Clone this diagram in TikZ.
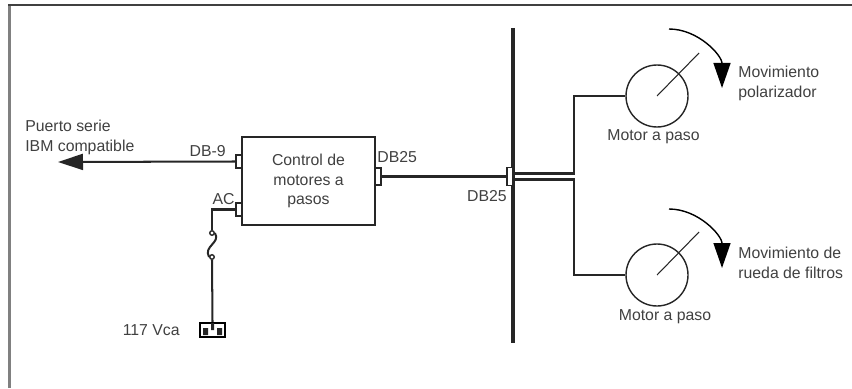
\documentclass[tikz,border=0pt]{standalone}
\usepackage{fontspec}
\setmainfont{Liberation Sans}
\usetikzlibrary{arrows.meta}
\tikzset{
  lbl/.style={inner sep=0pt,align=left,text=black!75,font=\fontsize{9}{11.3}\selectfont},
  wire/.style={line width=1.15pt,draw=black!85},
  conn/.style={draw=black!85,fill=white,line width=.8pt,minimum width=.12cm,inner sep=0pt},
  motorc/.style={circle,draw=black!85,line width=.8pt,minimum size=1.24cm,inner sep=0pt},
  fusedot/.style={circle,draw=black!85,line width=.8pt,minimum size=.09cm,inner sep=0pt},
  turn/.style={line width=.8pt,-{Triangle[length=.5cm,width=.34cm]}}
}
\begin{document}
\begin{tikzpicture}
  \useasboundingbox (0,0) rectangle (17.04,7.76);
  \draw[black!50,line width=2pt] (.19,0)--(.19,7.66);
  \draw[black!75,line width=1.6pt] (.16,7.66)--(17.04,7.66);
  \node[draw=black!85,line width=1pt,minimum width=2.66cm,minimum height=1.76cm,lbl,align=center,inner sep=0pt] (ctrl) at (6.17,4.14) {Control de\\motores a\\pasos};
  \node[conn,minimum height=.26cm] (dbnine) at (4.78,4.53) {};
  \node[conn,minimum height=.26cm] (acin) at (4.78,3.57) {};
  \node[conn,minimum height=.34cm] (dbout) at (7.56,4.23) {};
  \coordinate (bustop) at (10.26,7.2);
  \coordinate (busbot) at (10.26,.9);
  \draw[black!85,line width=1.9pt] (bustop)--(busbot);
  \node[conn,minimum height=.36cm] (dbbus) at (10.2,4.23) {};
  \node[motorc] (motora) at (13.14,5.84) {};
  \node[motorc] (motorb) at (13.14,2.26) {};
  \coordinate (leftend) at (1.16,4.52);
  \draw[wire,-{Triangle[length=.5cm,width=.32cm]}] (dbnine.west)--(leftend);
  \draw[wire] (dbout.east)--(dbbus.west);
  \draw[wire] ([yshift=.06cm]dbbus.east)--++(1.2,0)|-(motora.west);
  \draw[wire] ([yshift=-.06cm]dbbus.east)--++(1.2,0)|-(motorb.west);
  % fuse and plug
  \node[fusedot] (fusetop) at (4.24,3.1) {};
  \node[fusedot] (fusebot) at (4.24,2.62) {};
  \node[draw=black,line width=1.2pt,minimum width=.5cm,minimum height=.28cm,inner sep=0pt] (plug) at (4.25,1.16) {};
  \draw[wire] (acin.west)-|(fusetop.north);
  \draw[wire] (fusetop.east) .. controls (4.42,2.9) and (4.06,2.84) .. (fusebot.west);
  \draw[wire] (fusebot.south)--(plug.north);
  \fill[black!85] (4.06,1.06) rectangle (4.16,1.2) (4.34,1.06) rectangle (4.44,1.2) (4.22,1.16) rectangle (4.28,1.3);
  % motor shafts and turning arrows
  \draw[line width=.6pt,black!85] (motora.center)--++(.84,.86);
  \draw[line width=.6pt,black!85] (motorb.center)--++(.84,.86);
  \draw[turn] (13.38,7.18) arc[start angle=90,end angle=0,x radius=1.06,y radius=1.18];
  \draw[turn] (13.38,3.58) arc[start angle=90,end angle=0,x radius=1.06,y radius=1.18];
  % labels
  \node[lbl,anchor=west] (puerto) at (.5,5.02) {Puerto serie\\IBM compatible};
  \node[lbl,anchor=east] (dbninelbl) at (4.52,4.74) {DB-9};
  \node[lbl,anchor=east] (aclbl) at (4.7,3.78) {AC};
  \node[lbl,anchor=west] (dboutlbl) at (7.54,4.62) {DB25};
  \node[lbl,anchor=east] (dbbuslbl) at (10.14,3.84) {DB25};
  \node[lbl,anchor=east] (vca) at (3.6,1.16) {117 Vca};
  \node[lbl] (motoralbl) at (13.07,5.02) {Motor a paso};
  \node[lbl] (motorblbl) at (13.3,1.42) {Motor a paso};
  \node[lbl,anchor=west] (mova) at (14.76,6.1) {Movimiento\\polarizador};
  \node[lbl,anchor=west] (movb) at (14.76,2.51) {Movimiento de\\rueda de filtros};
\end{tikzpicture}
\end{document}
